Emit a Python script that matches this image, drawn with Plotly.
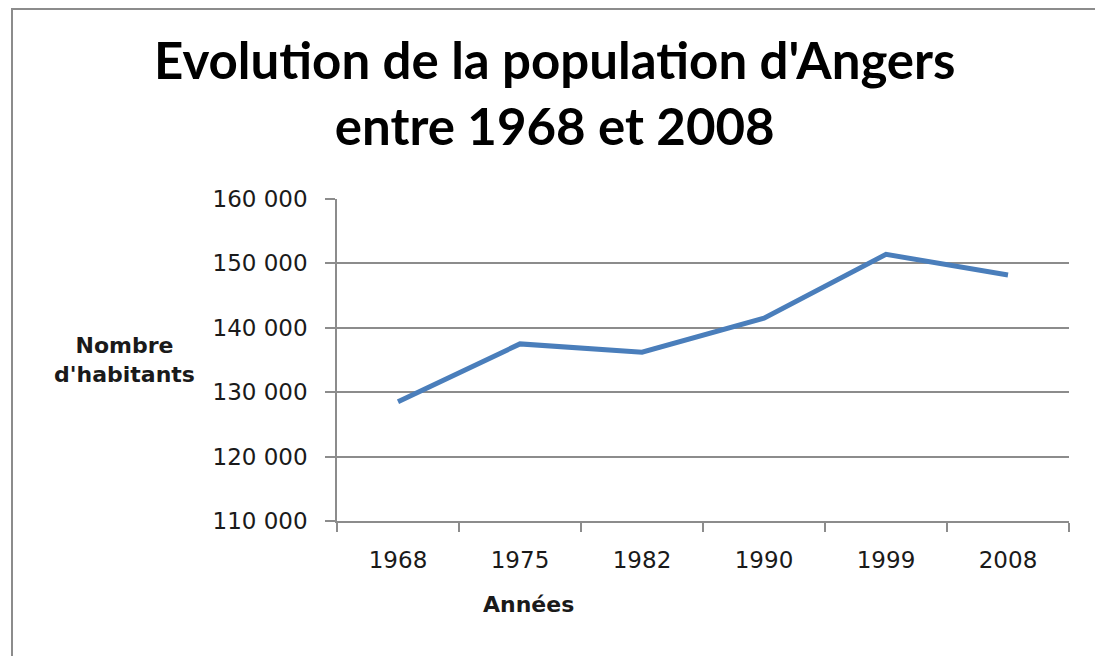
import plotly.graph_objects as go

years = ["1968", "1975", "1982", "1990", "1999", "2008"]
population = [128500, 137500, 136200, 141500, 151400, 148200]
y_ticks = [110000, 120000, 130000, 140000, 150000, 160000]
y_tick_labels = ["110 000", "120 000", "130 000", "140 000", "150 000", "160 000"]

title_text = "Evolution de la population d'Angers<br>entre 1968 et 2008"
y_title = "Nombre<br>d'habitants"
x_title = "Années"

# page body has an 8px margin; work in screen pixels and convert
OFF = 8
W, H = 1103 - OFF, 656 - OFF
L, R, T, B = 337 - OFF, 1069 - OFF, 199 - OFF, 521 - OFF
pw, ph = R - L, B - T

def px(x):
    return (x - OFF - L) / pw

def py(y):
    return (B - (y - OFF)) / ph

fig = go.Figure()
fig.add_trace(go.Scatter(
    x=years, y=population, mode="lines",
    line=dict(color="#4a7ebb", width=5),
    showlegend=False, hoverinfo="skip",
))

axis_gray = "#8c8c8c"
tick_font = dict(family="DejaVu Sans", size=23, color="#1a1a1a")

fig.update_layout(
    width=W, height=H,
    margin=dict(l=L, r=W - R, t=T, b=H - B, pad=0),
    paper_bgcolor="white", plot_bgcolor="white",
    xaxis=dict(
        type="category", tickson="boundaries",
        ticks="outside", ticklen=9, tickwidth=1.5, tickcolor=axis_gray,
        showline=True, linecolor=axis_gray, linewidth=1.5,
        showgrid=False, tickfont=tick_font, ticklabelstandoff=18,
        range=[-0.5, 5.5], fixedrange=True,
    ),
    yaxis=dict(
        range=[110000, 160000], tickvals=y_ticks, ticktext=y_tick_labels,
        ticks="outside", ticklen=10, tickwidth=1.5, tickcolor=axis_gray,
        showline=True, linecolor=axis_gray, linewidth=1.5,
        showgrid=True, gridcolor=axis_gray, gridwidth=1.5,
        zeroline=False, tickfont=tick_font, ticklabelstandoff=13,
        fixedrange=True,
    ),
    shapes=[dict(
        type="rect", xref="paper", yref="paper",
        x0=px(12), x1=px(1101), y0=py(700), y1=py(9),
        line=dict(color="#8c8c8c", width=2), fillcolor="rgba(0,0,0,0)",
        layer="below",
    )],
    annotations=[
        dict(text=title_text, xref="paper", yref="paper",
             x=px(554), y=py(92), xanchor="center", yanchor="middle",
             showarrow=False, align="center",
             font=dict(family="Lato", size=51, color="black", weight="bold")),
        dict(text=y_title, xref="paper", yref="paper",
             x=px(124), y=py(360), xanchor="center", yanchor="middle",
             showarrow=False, align="center",
             font=dict(family="DejaVu Sans", size=22, color="#1a1a1a", weight="bold")),
        dict(text=x_title, xref="paper", yref="paper",
             x=px(528), y=py(604), xanchor="center", yanchor="middle",
             showarrow=False, align="center",
             font=dict(family="DejaVu Sans", size=22, color="#1a1a1a", weight="bold")),
    ],
)

fig.write_html("out.html")
